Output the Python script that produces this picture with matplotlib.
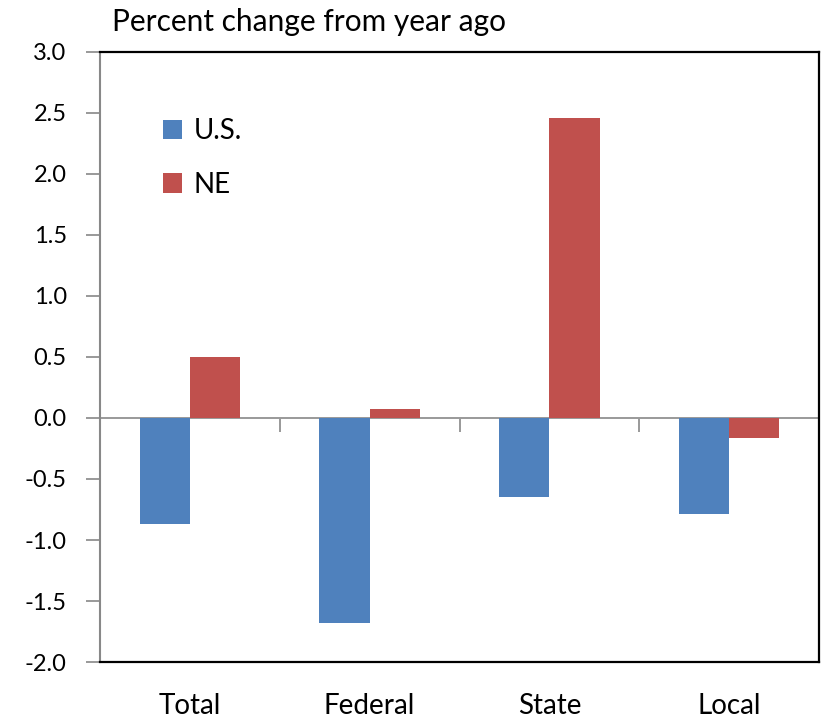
# Percent change from year ago in employment by government level, U.S. vs NE

import numpy as np
import matplotlib.pyplot as plt

plt.rcParams['font.family'] = ['Lato', 'DejaVu Sans']

# data
categories = ['Total', 'Federal', 'State', 'Local']
us_values = [-0.87, -1.68, -0.65, -0.79]
ne_values = [0.50, 0.07, 2.46, -0.16]
y_ticks = [-2.0, -1.5, -1.0, -0.5, 0.0, 0.5, 1.0, 1.5, 2.0, 2.5, 3.0]

fig = plt.figure(figsize=(8.21, 7.17), dpi=100)
ax = fig.add_axes([0.1218, 0.0767, 0.8758, 0.8508])

x = np.arange(len(categories))
width = 0.28
bars_us = ax.bar(x - width / 2, us_values, width, color='#4F81BD', label='U.S.')
bars_ne = ax.bar(x + width / 2, ne_values, width, color='#C0504D', label='NE')

ax.set_xlim(-0.5, len(categories) - 0.5)
ax.set_ylim(-2.0, 3.0)

# y axis: gray spine, outward ticks
ax.set_yticks(y_ticks)
ax.set_yticklabels([f'{v:.1f}' for v in y_ticks])
ax.tick_params(axis='y', direction='out', length=10, width=1.2, color='#888888',
               labelsize=17, pad=14)
ax.spines['left'].set_color('#888888')
ax.spines['left'].set_linewidth(1.5)
for s in ['top', 'right', 'bottom']:
    ax.spines[s].set_color('black')
    ax.spines[s].set_linewidth(1.6)

# category labels below the plot area
ax.set_xticks(x)
ax.set_xticklabels(categories)
ax.tick_params(axis='x', length=0, labelsize=20, pad=22)

# zero line with boundary ticks
zero = ax.secondary_xaxis(0.4)
zero.set_xticks([0.5, 1.5, 2.5])
zero.set_xticklabels([])
zero.tick_params(direction='out', length=10, width=1.2, color='#888888')
zero.spines['bottom'].set_color('#999999')
zero.spines['bottom'].set_linewidth(1.4)

ax.legend(loc='upper left', bbox_to_anchor=(0.072, 0.91), frameon=False,
          fontsize=20, handlelength=0.7, handleheight=0.7, handletextpad=0.4,
          labelspacing=1.0, borderaxespad=0)

fig.text(0.136, 0.957, 'Percent change from year ago', fontsize=21.5, va='baseline')

plt.savefig('out.png', dpi=100)
